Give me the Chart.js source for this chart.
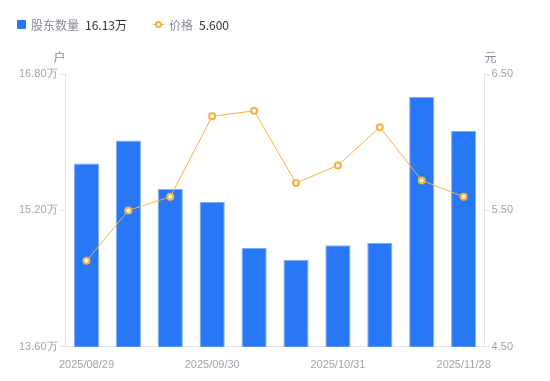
<!DOCTYPE html>
<html>
<head>
<meta charset="utf-8">
<script src="https://cdn.jsdelivr.net/npm/chart.js@4/dist/chart.umd.min.js"></script>
<style>
  html, body { margin: 0; padding: 0; background: #fff; }
  #wrap { position: relative; width: 550px; height: 381px; }
  #legend { position: absolute; left: 17px; top: 16px; font: 12px "Noto Sans CJK SC", "Noto Sans", sans-serif; display: flex; align-items: center; }
  .item { display: flex; align-items: center; margin-right: 26px; }
  .name { color: #8a8a96; margin-right: 6px; }
  .val { color: #333; }
  .box { width: 9px; height: 9px; background: #2878f5; border-radius: 1px; margin-right: 5px; }
  .lineicon { position: relative; width: 11px; height: 9px; margin-right: 5px; }
  .lineicon:before { content: ""; position: absolute; left: 0; right: 0; top: 4px; height: 1px; background: #f8b03c; }
  .lineicon:after { content: ""; position: absolute; left: 2px; top: 1px; width: 5px; height: 5px; border: 2px solid #f8b03c; border-radius: 50%; background: #fff; box-sizing: border-box; width: 7px; height: 7px; }
</style>
</head>
<body>
<div id="wrap">
  <div id="legend">
    <div class="item"><span class="box"></span><span class="name">股东数量</span><span class="val">16.13万</span></div>
    <div class="item"><span class="lineicon"></span><span class="name">价格</span><span class="val">5.600</span></div>
  </div>
  <canvas id="myChart" width="550" height="381"></canvas>
</div>
<script>
// Data
const dates = ['2025/08/29', '2025/09/10', '2025/09/19', '2025/09/30', '2025/10/10',
               '2025/10/20', '2025/10/31', '2025/11/10', '2025/11/20', '2025/11/28'];
const holders = [15.75, 16.02, 15.45, 15.30, 14.76, 14.62, 14.79, 14.82, 16.53, 16.13]; // 万户
const prices = [5.13, 5.50, 5.60, 6.19, 6.23, 5.70, 5.83, 6.11, 5.72, 5.60]; // 元
const holderTicks = [13.6, 15.2, 16.8];
const priceTicks = [4.5, 5.5, 6.5];

const tickColor = '#a3a3b0';
const axisColor = '#e3e3e8';

// axis unit labels above the two y axes
const unitLabels = {
    id: 'unitLabels',
    afterDraw(chart) {
        const c = chart.ctx;
        const area = chart.chartArea;
        c.save();
        c.font = '12px "Noto Sans CJK SC", sans-serif';
        c.fillStyle = '#8a8a96';
        c.textBaseline = 'middle';
        c.textAlign = 'right';
        c.fillText('户', area.left, 57);
        c.textAlign = 'left';
        c.fillText('元', area.right, 57);
        c.restore();
    }
};

const ctx = document.getElementById('myChart').getContext('2d');

const myChart = new Chart(ctx, {
    data: {
        labels: dates,
        datasets: [{
            type: 'line',
            label: '价格',
            data: prices,
            yAxisID: 'y1',
            borderColor: '#f8b03c',
            borderWidth: 1,
            pointRadius: 3,
            pointBorderWidth: 2,
            pointBackgroundColor: '#fff',
            pointBorderColor: '#f8b03c',
            tension: 0,
            order: 0
        }, {
            type: 'bar',
            label: '股东数量',
            data: holders,
            yAxisID: 'y',
            backgroundColor: '#2878f5',
            borderColor: '#7aaef8',
            borderWidth: 1,
            barPercentage: 0.6,
            categoryPercentage: 1,
            order: 1
        }]
    },
    options: {
        responsive: false,
        animation: false,
        layout: { padding: { left: 16, right: 35, top: 74, bottom: 5 } },
        plugins: {
            legend: { display: false },
            tooltip: { enabled: false }
        },
        scales: {
            x: {
                grid: { display: false },
                border: { color: axisColor },
                ticks: {
                    color: tickColor,
                    font: { size: 11 },
                    maxRotation: 0,
                    autoSkip: false,
                    padding: 4,
                    callback: function (v, i) { return i % 3 === 0 ? dates[i] : null; }
                }
            },
            y: {
                position: 'left',
                min: holderTicks[0],
                max: holderTicks[holderTicks.length - 1],
                afterBuildTicks: function (s) { s.ticks = holderTicks.map(v => ({ value: v })); },
                grid: { drawOnChartArea: false, tickLength: 5, color: axisColor },
                border: { color: axisColor },
                ticks: {
                    color: tickColor,
                    font: { size: 11 },
                    padding: 3,
                    callback: v => v.toFixed(2) + '万'
                }
            },
            y1: {
                position: 'right',
                min: priceTicks[0],
                max: priceTicks[priceTicks.length - 1],
                afterBuildTicks: function (s) { s.ticks = priceTicks.map(v => ({ value: v })); },
                grid: { drawOnChartArea: false, tickLength: 5, color: axisColor },
                border: { color: axisColor },
                ticks: {
                    color: tickColor,
                    font: { size: 11 },
                    padding: 2,
                    callback: v => v.toFixed(2)
                }
            }
        }
    },
    plugins: [unitLabels]
});
</script>
</body>
</html>
